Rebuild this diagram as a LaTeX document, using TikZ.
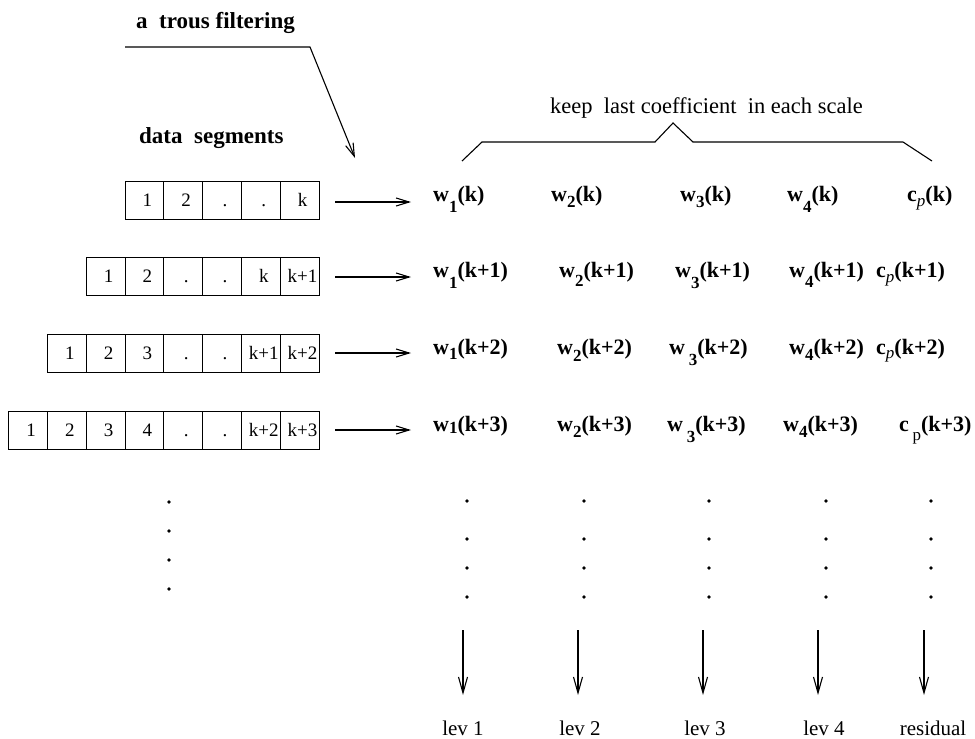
\documentclass[tikz,border=0pt]{standalone}
\usepackage{fontspec}
\setmainfont{Liberation Serif}
\usetikzlibrary{arrows.meta}
% #1 letter, #2 subscript, #3 argument, #4 drop of the subscript
\newcommand{\coef}[4]{#1\raisebox{-#4}{\fontsize{17}{17}\selectfont #2}(#3)}
\newcommand{\celltext}[1]{\hspace*{6pt}\makebox[0pt][c]{#1}}
\begin{document}
\begin{tikzpicture}[x=1pt,y=-1pt]
\tikzset{
 cell/.style={draw, line width=1pt, minimum width=38.8pt, minimum height=38pt, inner sep=0pt,
   text height=12pt, text depth=0pt, font=\fontsize{19}{19}\selectfont},
 coefnode/.style={anchor=base west, inner sep=0pt, font=\fontsize{22}{22}\selectfont\bfseries},
 arr/.style={line width=1.1pt, -{Straight Barb[length=13pt,width=8pt]}},
 varr/.style={line width=1.1pt, -{Straight Barb[length=16pt,width=9pt]}},
 head/.style={anchor=base west, inner sep=0pt, font=\fontsize{23}{23}\selectfont\bfseries},
 lbl/.style={anchor=base, inner sep=0pt, font=\fontsize{21}{21}\selectfont},
 dotmark/.style={fill=black},
}
\useasboundingbox (0,0) rectangle (975,739);

% headings
\node[head] (title) at (136,28) {a\ \ trous filtering};
\node[head] (data) at (139,143) {data\ \ segments};
\node[anchor=base west, inner sep=0pt, font=\fontsize{22.5}{22.5}\selectfont] (keep) at (550,113) {keep\ \ last coefficient\ \ in each scale};

% a trous arrow
\coordinate (t0) at (125,47);
\coordinate (t1) at (310,47);
\coordinate (t2) at (355,158);
\draw[arr] (t0) -- (t1) -- (t2);

% brace
\coordinate (b0) at (462,161);
\coordinate (b1) at (482,142);
\coordinate (b2) at (655,142);
\coordinate (b3) at (673,123);
\coordinate (b4) at (693,142);
\coordinate (b5) at (903,142);
\coordinate (b6) at (932,161);
\draw[line width=1.1pt] (b0) -- (b1) -- (b2) -- (b3) -- (b4) -- (b5) -- (b6);

% data segments
\foreach \lab [count=\i] in {1,2,.,.,k}
  \node[cell] (ra-\i) at ({125+(\i-0.5)*38.8},200) {\celltext{\lab}};
\foreach \lab [count=\i] in {1,2,.,.,k,k+1}
  \node[cell] (rb-\i) at ({86.2+(\i-0.5)*38.8},276) {\celltext{\lab}};
\foreach \lab [count=\i] in {1,2,3,.,.,k+1,k+2}
  \node[cell] (rc-\i) at ({47.4+(\i-0.5)*38.8},353) {\celltext{\lab}};
\foreach \lab [count=\i] in {1,2,3,4,.,.,k+2,k+3}
  \node[cell] (rd-\i) at ({8.6+(\i-0.5)*38.8},430) {\celltext{\lab}};

% row arrows
\foreach \r/\y in {a/202,b/277,c/353,d/430} {
  \coordinate (s\r) at (335,\y);
  \coordinate (e\r) at (411,\y);
  \draw[arr] (s\r) -- (e\r);
}

% coefficients
\node[coefnode] (w1a) at (433,201) {\coef{w}{1}{k}{11pt}};
\node[coefnode] (w2a) at (551,201) {\coef{w}{2}{k}{6pt}};
\node[coefnode] (w3a) at (680,201) {\coef{w}{3}{k}{6pt}};
\node[coefnode] (w4a) at (787,201) {\coef{w}{4}{k}{11pt}};
\node[coefnode] (cpa) at (907,201) {\coef{c}{\mdseries\itshape p}{k}{5pt}};

\node[coefnode] (w1b) at (433,277) {\coef{w}{1}{k+1}{11pt}};
\node[coefnode] (w2b) at (559,277) {\coef{w}{2}{k+1}{9pt}};
\node[coefnode] (w3b) at (675,277) {\coef{w}{3}{k+1}{11pt}};
\node[coefnode] (w4b) at (789,277) {\coef{w}{4}{k+1}{10pt}};
\node[coefnode] (cpb) at (876,277) {\coef{c}{\mdseries\itshape p}{k+1}{5pt}};

\node[coefnode] (w1c) at (433,354) {\coef{w}{1}{k+2}{5pt}};
\node[coefnode] (w2c) at (557,354) {\coef{w}{2}{k+2}{7pt}};
\node[coefnode] (w3c) at (669,354) {\coef{w\,}{3}{k+2}{11pt}};
\node[coefnode] (w4c) at (789,354) {\coef{w}{4}{k+2}{6pt}};
\node[coefnode] (cpc) at (876,354) {\coef{c}{\mdseries\itshape p}{k+2}{4pt}};

\node[coefnode] (w1d) at (433,431) {\coef{w}{1}{k+3}{2pt}};
\node[coefnode] (w2d) at (557,431) {\coef{w}{2}{k+3}{6pt}};
\node[coefnode] (w3d) at (667,431) {\coef{w\,}{3}{k+3}{11pt}};
\node[coefnode] (w4d) at (783,431) {\coef{w}{4}{k+3}{6pt}};
\node[coefnode] (cpd) at (899,431) {\coef{c\,}{\mdseries p}{k+3}{9pt}};

% left dots
\foreach \y in {502,531,560,589}
  \fill[dotmark] (169,\y) circle (1.8);

% column dots, arrows, labels
\foreach \dx/\ax/\lx/\t [count=\i] in {467/463/463/lev 1,584/578/580/lev 2,709/703/705/lev 3,826/818/824/lev 4,931/924/933/residual} {
  \foreach \y in {501,539,568,597}
    \fill[dotmark] (\dx,\y) circle (1.8);
  \coordinate (vs\i) at (\ax,630);
  \coordinate (ve\i) at (\ax,695);
  \draw[varr] (vs\i) -- (ve\i);
  \node[lbl] (lev\i) at (\lx,735) {\t};
}
\end{tikzpicture}
\end{document}
